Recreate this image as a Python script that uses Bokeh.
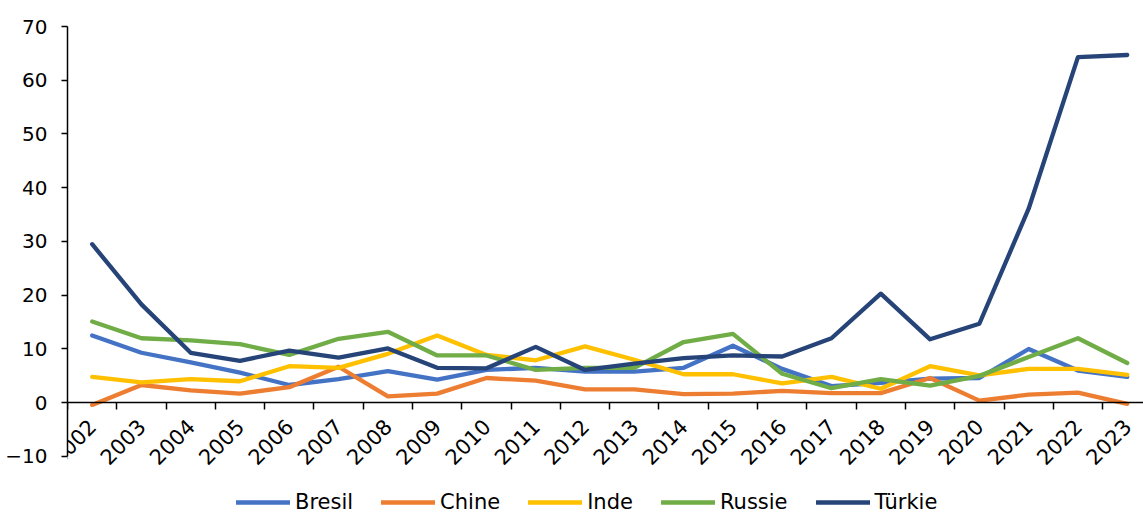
import math
from bokeh.plotting import figure
from bokeh.models import Range1d, LinearAxis, FixedTicker, Legend, LegendItem, ColumnDataSource
from bokeh.embed import file_html
from bokeh.resources import INLINE

years = ["2002", "2003", "2004", "2005", "2006", "2007", "2008", "2009", "2010", "2011", "2012",
         "2013", "2014", "2015", "2016", "2017", "2018", "2019", "2020", "2021", "2022", "2023"]
bresil = [12.5, 9.3, 7.5, 5.6, 3.3, 4.4, 5.9, 4.3, 6.1, 6.5, 5.8, 5.8, 6.5, 10.6, 6.3, 3.1, 3.7, 4.5, 4.6, 10.0, 6.0, 4.8]
chine = [-0.4, 3.3, 2.3, 1.7, 2.9, 6.7, 1.2, 1.7, 4.6, 4.1, 2.5, 2.5, 1.6, 1.7, 2.2, 1.8, 1.8, 4.6, 0.4, 1.5, 1.9, -0.2]
inde = [4.8, 3.8, 4.4, 4.0, 6.8, 6.5, 9.1, 12.5, 8.9, 7.9, 10.5, 8.0, 5.3, 5.3, 3.6, 4.8, 2.6, 6.8, 5.1, 6.3, 6.3, 5.2]
russie = [15.1, 12.0, 11.6, 10.9, 8.9, 11.9, 13.2, 8.8, 8.8, 6.1, 6.5, 6.5, 11.3, 12.8, 5.4, 2.7, 4.4, 3.2, 5.0, 8.5, 12.0, 7.4]
turkie = [29.5, 18.3, 9.3, 7.8, 9.7, 8.4, 10.1, 6.5, 6.4, 10.4, 6.1, 7.3, 8.3, 8.8, 8.6, 12.0, 20.3, 11.8, 14.7, 36.1, 64.3, 64.7]
y_ticks = [-10, 0, 10, 20, 30, 40, 50, 60, 70]

series = [("Bresil", bresil, "#4472C4"), ("Chine", chine, "#ED7D31"), ("Inde", inde, "#FFC000"),
          ("Russie", russie, "#70AD47"), ("Türkie", turkie, "#264478")]

FONT = "DejaVu Sans"
FS = "20px"
FS2 = "21px"

idx = list(range(len(years)))

p = figure(width=1143, height=517, output_backend="svg", toolbar_location=None,
           x_range=Range1d(-0.5, 21.33), y_range=Range1d(-21.35, 70), x_axis_type=None,
           min_border_left=67, min_border_right=0, min_border_top=26, min_border_bottom=0)
p.grid.visible = False
p.outline_line_color = None
p.background_fill_color = "white"

yax = p.yaxis[0]
yax.ticker = FixedTicker(ticks=y_ticks)
yax.bounds = (-10, 70)
yax.major_label_text_font = FONT
yax.major_label_text_font_size = FS
yax.major_label_text_color = "#000000"
yax.major_tick_out = 6
yax.major_tick_in = 0
yax.minor_tick_out = 0
yax.minor_tick_in = 0
yax.axis_line_color = "#000000"
yax.major_tick_line_color = "#000000"
yax.axis_line_width = 1.5
yax.major_tick_line_width = 1.5
yax.major_label_standoff = 14

ax_ticks = LinearAxis(ticker=FixedTicker(ticks=[i - 0.5 for i in range(len(years) + 1)]),
                      fixed_location=0, major_tick_out=7, major_tick_in=0,
                      minor_tick_out=0, minor_tick_in=0,
                      axis_line_color="#000000", axis_line_width=1.5,
                      major_tick_line_color="#000000", major_tick_line_width=1.5,
                      major_label_text_alpha=0, major_label_text_font_size="1px")
p.add_layout(ax_ticks, "below")

ax_labels = LinearAxis(ticker=FixedTicker(ticks=idx), fixed_location=0,
                       major_tick_out=0, major_tick_in=0, minor_tick_out=0, minor_tick_in=0,
                       axis_line_color=None, major_tick_line_color=None,
                       major_label_overrides={i: y for i, y in enumerate(years)},
                       major_label_orientation=math.pi / 4, major_label_standoff=20,
                       major_label_text_font=FONT, major_label_text_font_size=FS2,
                       major_label_text_color="#000000")
p.add_layout(ax_labels, "below")

items = []
for name, vals, color in series:
    src = ColumnDataSource(data=dict(x=idx, y=vals))
    r = p.line("x", "y", source=src, line_color=color, line_width=4.3, line_join="round", line_cap="round")
    items.append(LegendItem(label=name, renderers=[r]))

legend = Legend(items=items, orientation="horizontal", location=(169, 3),
                label_text_font=FONT, label_text_font_size=FS2, label_text_color="#000000",
                glyph_width=54, glyph_height=16, label_height=16, label_standoff=5,
                spacing=28, padding=0, margin=0, border_line_color=None,
                background_fill_alpha=0)
p.add_layout(legend, "center")

open("out.html", "w").write(file_html(p, INLINE))
